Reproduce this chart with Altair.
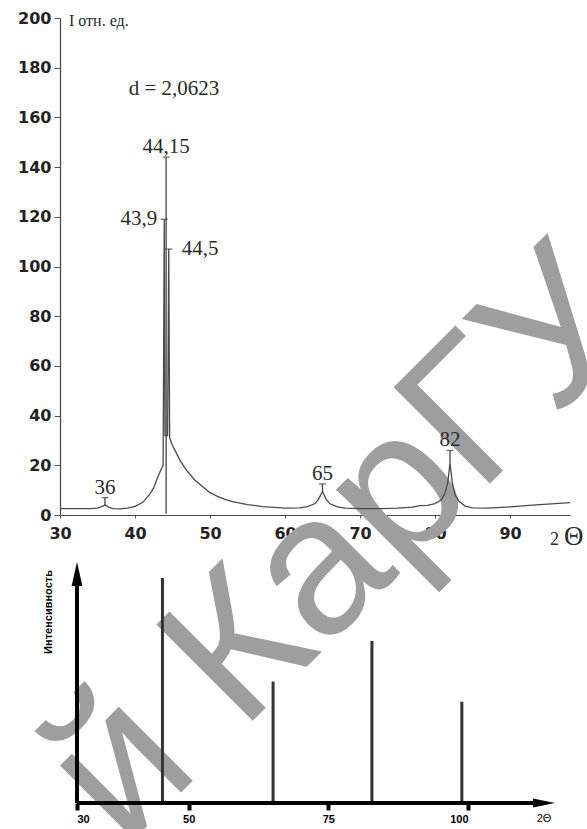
import altair as alt
import pandas as pd

# ---- measured diffractogram: 2θ (deg) and intensity (rel. units) ----
two_theta = [30, 32, 34, 35, 35.5, 36, 36.5, 37, 38, 39, 40, 41, 42, 42.5, 43,
             43.5, 43.75, 43.9, 44.0, 44.35, 44.5, 44.62, 45, 45.5, 46, 47, 48,
             49, 50, 51, 52, 53, 55, 57, 60, 62, 63, 64, 64.5, 65, 65.5, 66, 67,
             68, 70, 73, 75, 77, 78, 79, 80, 80.8, 81.3, 81.7, 82, 82.3, 82.7,
             83.2, 84, 85, 87, 90, 93, 96, 98]
intensity = [2.6, 2.6, 2.6, 2.8, 3.3, 4.0, 3.2, 2.6, 2.5, 2.8, 3.5, 5.0, 8.5, 11, 15,
             18.5, 20, 119, 32, 32, 107, 31, 28, 25, 22, 17.5, 14,
             11.5, 9, 7.5, 6.3, 5.4, 4.2, 3.4, 2.8, 2.9, 3.4, 4.6, 6.5, 9.5, 6.3, 4.5, 3.3,
             2.8, 2.6, 2.6, 2.8, 3.2, 3.8, 3.9, 4.6, 6, 8.5, 13, 21, 13, 8,
             5.5, 3.6, 2.9, 2.8, 3.3, 4.0, 4.6, 5.0]

# ---- labelled reflections ----
peak_pos = [36, 43.9, 44.15, 44.5, 65, 82]
peak_top = [7, 119, 144, 107, 12.5, 26]
peak_base = [3.6, 119, 0.5, 107, 9.5, 21]
peak_text = ["36", "43,9", "44,15", "44,5", "65", "82"]
labels_above = ["36", "44,15", "65", "82"]

# ---- reference line pattern (stick diagram) ----
ref_pos = [45.3, 65.1, 82.8, 98.9]
ref_int = [100, 54, 72, 45]

x_ticks_top = [30, 40, 50, 60, 70, 80, 90]
y_ticks_top = [0, 20, 40, 60, 80, 100, 120, 140, 160, 180, 200]
x_ticks_bottom = [30, 50, 75, 100]

# ---- layout (plot area of the upper panel starts at LEFT, TOP) ----
W, H = 587, 829
LEFT, TOP, PW, PH = 60, 18, 510, 497

curve_df = pd.DataFrame({"t": two_theta, "i": intensity})
peaks_df = pd.DataFrame({"pos": peak_pos, "top": peak_top, "base": peak_base,
                         "label": peak_text})
ref_df = pd.DataFrame({"pos": ref_pos, "int": ref_int})

SERIF = "Liberation Serif"
INK = "#2a2a2a"

# ---------------- upper panel ----------------
sx = alt.Scale(domain=[30, 98], nice=False, zero=False)
sy = alt.Scale(domain=[0, 200], nice=False)
ax = alt.Axis(values=x_ticks_top, title=None, orient="bottom", grid=False,
              labelFont="DejaVu Sans", labelFontWeight="bold", labelFontSize=16,
              labelColor="#222", tickSize=3, tickColor="#555", domainColor="#444",
              domainWidth=1.2, labelPadding=7, labelFlush=False)
ay = alt.Axis(values=y_ticks_top, title=None, orient="left", grid=False,
              labelFont="DejaVu Sans", labelFontWeight="bold", labelFontSize=16,
              labelColor="#222", tickSize=6, tickColor="#555", domainColor="#444",
              domainWidth=1.2, labelPadding=3, labelFlush=False)


def X(field):
    return alt.X(field, type="quantitative", scale=sx, axis=ax)


def Y(field):
    return alt.Y(field, type="quantitative", scale=sy, axis=ay)


curve = alt.Chart(curve_df).mark_line(color="#4a4a4a", strokeWidth=1.3).encode(
    x=X("t"), y=Y("i"))

markers = alt.Chart(peaks_df).transform_filter("datum.base < datum.top").mark_rule(
    color="#444", strokeWidth=1.3).encode(x=X("pos"), y=Y("base"), y2="top")

caps = alt.Chart(peaks_df).mark_tick(orient="horizontal", size=7, thickness=1.3,
                                     color="#333").encode(x=X("pos"), y=Y("top"))

txt_above = alt.Chart(peaks_df).transform_filter(
    alt.FieldOneOfPredicate(field="label", oneOf=labels_above)).mark_text(
    font=SERIF, fontSize=21, color=INK, baseline="alphabetic", dy=-4).encode(
    x=X("pos"), y=Y("top"), text="label")

txt_left = alt.Chart(peaks_df).transform_filter("datum.label == '43,9'").mark_text(
    font=SERIF, fontSize=21, color=INK, align="right", baseline="middle", dx=-7).encode(
    x=X("pos"), y=Y("top"), text="label")

txt_right = alt.Chart(peaks_df).transform_filter("datum.label == '44,5'").mark_text(
    font=SERIF, fontSize=21, color=INK, align="left", baseline="middle", dx=13).encode(
    x=X("pos"), y=Y("top"), text="label")

notes = pd.DataFrame({"d": ["d = 2,0623"], "ylab": ["I отн. ед."],
                      "two": ["2"], "theta": ["Θ"]})
d_text = alt.Chart(notes).mark_text(font=SERIF, fontSize=21, color=INK,
                                    baseline="middle").encode(
    x=alt.value(174 - LEFT), y=alt.value(89 - TOP), text="d")
y_title = alt.Chart(notes).mark_text(font=SERIF, fontSize=16, color=INK, align="left",
                                     baseline="alphabetic").encode(
    x=alt.value(69 - LEFT), y=alt.value(26 - TOP), text="ylab")
x_title_2 = alt.Chart(notes).mark_text(font=SERIF, fontSize=18, color=INK, align="left",
                                       baseline="alphabetic").encode(
    x=alt.value(550 - LEFT), y=alt.value(545 - TOP), text="two")
x_title_t = alt.Chart(notes).mark_text(font=SERIF, fontSize=27, color=INK, align="left",
                                       baseline="alphabetic").encode(
    x=alt.value(564 - LEFT), y=alt.value(545 - TOP), text="theta")

upper = alt.layer(curve, markers, caps, txt_above, txt_left, txt_right,
                  d_text, y_title, x_title_2, x_title_t)

# ---------------- lower panel (stick diagram) ----------------
sxb = alt.Scale(domain=[30, 100], range=[77 - LEFT, 468 - LEFT], nice=False, zero=False)
syb = alt.Scale(domain=[0, 100], range=[803 - TOP, 578 - TOP], nice=False)
axb = alt.Axis(values=x_ticks_bottom, title=None, orient="bottom", offset=803 - (TOP + PH),
               domain=False, grid=False, tickSize=7, tickWidth=4, tickColor="black",
               labelFont="Liberation Sans", labelFontWeight="bold", labelFontSize=11,
               labelColor="black", labelPadding=3)


def XB(field):
    return alt.X(field, type="quantitative", scale=sxb, axis=axb)


def YB(field):
    return alt.Y(field, type="quantitative", scale=syb, axis=None)


x_arrow, y_arrow = 113.6, 101.8
axes_df = pd.DataFrame({"x0": [30, 30], "x1": [x_arrow, 30],
                        "y0": [0, 0], "y1": [0, y_arrow - 1]})
axis_lines = alt.Chart(axes_df).mark_rule(color="black", strokeWidth=4).encode(
    x=XB("x0"), x2="x1", y=YB("y0"), y2="y1")

up_head = alt.Chart(pd.DataFrame({"x": [30], "y": [y_arrow]})).mark_point(
    shape="M0,-1L0.45,1L-0.45,1Z", size=576, filled=True, opacity=1,
    color="black").encode(x=XB("x"), y=YB("y"))
right_head = alt.Chart(pd.DataFrame({"x": [x_arrow], "y": [0]})).mark_point(
    shape="M1,0L-1,-0.4L-1,0.4Z", size=484, filled=True, opacity=1,
    color="black").encode(x=XB("x"), y=YB("y"))

sticks = alt.Chart(ref_df).transform_calculate(base="0").mark_rule(
    color="#333", strokeWidth=3).encode(x=XB("pos"), y=YB("base"), y2="int")

lower_notes = pd.DataFrame({"ylab": ["Интенсивность"], "xlab": ["2Θ"]})
lower_y_title = alt.Chart(lower_notes).mark_text(
    font="Liberation Sans", fontWeight="bold", fontSize=11, angle=270, color="black",
    baseline="middle").encode(x=alt.value(49 - LEFT), y=alt.value(612 - TOP), text="ylab")
lower_x_title = alt.Chart(lower_notes).mark_text(
    font="Liberation Sans", fontSize=11, color="black", baseline="middle").encode(
    x=alt.value(544 - LEFT), y=alt.value(819 - TOP), text="xlab")

lower = alt.layer(sticks, axis_lines, up_head, right_head, lower_y_title, lower_x_title)

# ---------------- watermark ----------------
wm = alt.Chart(pd.DataFrame({"w": ["й КарГУ"]})).mark_text(
    font="Liberation Sans", fontSize=198, color="#9e9e9e", angle=315,
    align="center", baseline="middle").encode(
    x=alt.value(342 - LEFT), y=alt.value(548 - TOP), text="w")

chart = alt.layer(wm, upper, lower).resolve_scale(
    x="independent", y="independent"
).properties(
    width=PW, height=PH,
    padding={"left": LEFT, "top": TOP, "right": W - LEFT - PW, "bottom": H - TOP - PH},
    autosize=alt.AutoSizeParams(type="none"),
    background="white",
).configure_view(stroke=None)

chart.save("out.html", embed_options={"renderer": "svg", "actions": False})
